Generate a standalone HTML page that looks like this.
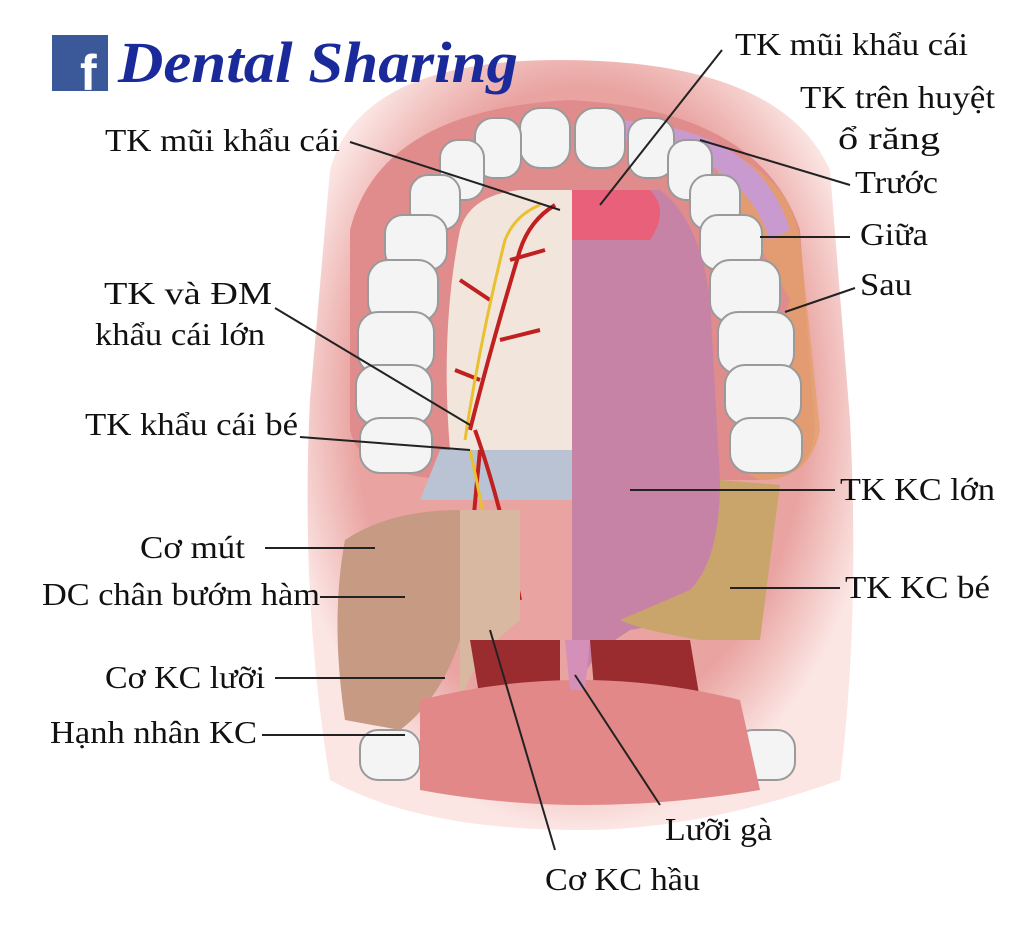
<!DOCTYPE html>
<html><head><meta charset="utf-8"><style>
html,body{margin:0;padding:0;background:#fff;width:1024px;height:929px;overflow:hidden}
svg{display:block}
.l{font-family:"Liberation Serif",serif;font-size:32px;fill:#111}
</style></head><body>
<svg width="1024" height="929" viewBox="0 0 1024 929" xmlns="http://www.w3.org/2000/svg">
<defs>
<radialGradient id="pk" cx="0.5" cy="0.45" r="0.55">
<stop offset="0.75" stop-color="#e9a3a0"/><stop offset="1" stop-color="#fbe6e4"/>
</radialGradient>
</defs>
<path d="M330 170 Q360 60 560 60 Q780 60 830 170 L850 420 Q860 620 840 780 Q700 830 580 830 Q420 830 330 780 Q300 600 310 400 Z" fill="url(#pk)"/>
<path d="M350 230 Q380 110 570 100 Q760 110 800 230 L815 430 Q810 480 760 480 L470 480 Q360 480 350 430 Z" fill="#e08c8c"/>
<path d="M700 140 Q790 170 800 240 L820 430 Q810 480 760 480 L740 470 L790 300 Z" fill="#e4a06a" opacity="0.8"/>
<path d="M620 120 Q760 130 790 230 L770 240 Q740 150 620 140Z" fill="#c99ad0"/>
<g fill="#f4f4f4" stroke="#9a9a9a" stroke-width="2">
<rect x="520" y="108" width="50" height="60" rx="20"/>
<rect x="575" y="108" width="50" height="60" rx="20"/>
<rect x="475" y="118" width="46" height="60" rx="18"/>
<rect x="628" y="118" width="46" height="60" rx="18"/>
<rect x="440" y="140" width="44" height="60" rx="18"/>
<rect x="668" y="140" width="44" height="60" rx="18"/>
<rect x="410" y="175" width="50" height="55" rx="18"/>
<rect x="690" y="175" width="50" height="55" rx="18"/>
<rect x="385" y="215" width="62" height="55" rx="18"/>
<rect x="700" y="215" width="62" height="55" rx="18"/>
<rect x="368" y="260" width="70" height="62" rx="20"/>
<rect x="710" y="260" width="70" height="62" rx="20"/>
<rect x="358" y="312" width="76" height="62" rx="20"/>
<rect x="718" y="312" width="76" height="62" rx="20"/>
<rect x="356" y="365" width="76" height="60" rx="20"/>
<rect x="725" y="365" width="76" height="60" rx="20"/>
<rect x="360" y="418" width="72" height="55" rx="20"/>
<rect x="730" y="418" width="72" height="55" rx="20"/>
<rect x="360" y="730" width="60" height="50" rx="18"/>
<rect x="735" y="730" width="60" height="50" rx="18"/>
</g>
<path d="M460 230 Q470 195 520 190 L572 190 L572 450 L450 450 Q440 330 460 230Z" fill="#f2e6dc"/>
<path d="M440 450 L572 450 L572 500 L420 500Z" fill="#b9c3d3"/>
<g stroke="#c02020" stroke-width="4" fill="none">
<path d="M470 430 Q490 350 520 250 Q530 220 555 205"/>
<path d="M500 340 L540 330 M490 300 L460 280 M510 260 L545 250 M480 380 L455 370 M475 430 Q500 500 520 600"/>
<path d="M480 450 Q470 550 465 640"/>
</g>
<g stroke="#e8c030" stroke-width="3" fill="none">
<path d="M465 440 Q480 340 505 240 Q515 215 540 205"/>
<path d="M470 450 Q490 540 500 620"/>
</g>
<path d="M572 190 L660 190 Q700 220 710 300 L720 480 Q730 580 690 620 L630 630 L600 650 L580 680 L572 680Z" fill="#c683a6"/>
<path d="M572 190 L650 190 Q670 210 650 240 L572 240Z" fill="#e8607a"/>
<path d="M720 480 L780 485 Q770 560 760 640 L700 640 Q640 630 620 620 L690 590 Q720 560 720 480Z" fill="#c9a56c"/>
<path d="M345 540 Q390 510 460 510 L460 640 Q440 700 400 730 L345 720 Q330 620 345 540Z" fill="#c79a84"/>
<path d="M460 510 L520 510 L520 620 Q480 650 460 700Z" fill="#d8b8a0"/>
<path d="M470 640 L560 640 L560 700 L480 700Z" fill="#9a2c30"/>
<path d="M590 640 L690 640 L700 700 L595 700Z" fill="#9a2c30"/>
<path d="M420 700 Q580 660 740 700 L760 790 Q580 820 420 790Z" fill="#e28888"/>
<path d="M565 640 L590 640 L585 690 L570 690Z" fill="#d490b8"/>
<rect x="52" y="35" width="56" height="56" fill="#3b5998"/>
<text x="80" y="90" font-family="Liberation Sans,sans-serif" font-weight="bold" font-size="50" fill="#fff">f</text>
<text x="118" y="82" font-family="Liberation Serif,serif" font-style="italic" font-weight="bold" font-size="58" fill="#1a2a9a" textLength="400" lengthAdjust="spacingAndGlyphs">Dental Sharing</text>
<g stroke="#222" stroke-width="2" fill="none">
<path d="M350 142 L560 210"/><path d="M275 308 L470 425"/><path d="M300 437 L470 450"/>
<path d="M265 548 L375 548"/><path d="M320 597 L405 597"/><path d="M275 678 L445 678"/><path d="M262 735 L405 735"/>
<path d="M722 50 L600 205"/><path d="M850 185 L700 140"/><path d="M850 237 L760 237"/><path d="M855 288 L785 312"/>
<path d="M835 490 L630 490"/><path d="M840 588 L730 588"/><path d="M660 805 L575 675"/><path d="M555 850 L490 630"/>
</g>
<g class="l" lengthAdjust="spacingAndGlyphs">
<text class="l" x="105" y="151" textLength="235" lengthAdjust="spacingAndGlyphs">TK mũi khẩu cái</text>
<text class="l" x="104" y="304" textLength="168" lengthAdjust="spacingAndGlyphs">TK và ĐM</text>
<text class="l" x="95" y="345" textLength="170" lengthAdjust="spacingAndGlyphs">khẩu cái lớn</text>
<text class="l" x="85" y="435" textLength="213" lengthAdjust="spacingAndGlyphs">TK khẩu cái bé</text>
<text class="l" x="140" y="558" textLength="105" lengthAdjust="spacingAndGlyphs">Cơ mút</text>
<text class="l" x="42" y="605" textLength="278" lengthAdjust="spacingAndGlyphs">DC chân bướm hàm</text>
<text class="l" x="105" y="688" textLength="160" lengthAdjust="spacingAndGlyphs">Cơ KC lưỡi</text>
<text class="l" x="50" y="743" textLength="207" lengthAdjust="spacingAndGlyphs">Hạnh nhân KC</text>
<text class="l" x="735" y="55" textLength="233" lengthAdjust="spacingAndGlyphs">TK mũi khẩu cái</text>
<text class="l" x="800" y="108" textLength="195" lengthAdjust="spacingAndGlyphs">TK trên huyệt</text>
<text class="l" x="838" y="149" textLength="102" lengthAdjust="spacingAndGlyphs">ổ răng</text>
<text class="l" x="855" y="193" textLength="83" lengthAdjust="spacingAndGlyphs">Trước</text>
<text class="l" x="860" y="245" textLength="68" lengthAdjust="spacingAndGlyphs">Giữa</text>
<text class="l" x="860" y="295" textLength="52" lengthAdjust="spacingAndGlyphs">Sau</text>
<text class="l" x="840" y="500" textLength="155" lengthAdjust="spacingAndGlyphs">TK KC lớn</text>
<text class="l" x="845" y="598" textLength="145" lengthAdjust="spacingAndGlyphs">TK KC bé</text>
<text class="l" x="665" y="840" textLength="107" lengthAdjust="spacingAndGlyphs">Lưỡi gà</text>
<text class="l" x="545" y="890" textLength="155" lengthAdjust="spacingAndGlyphs">Cơ KC hầu</text>
</g>
</svg>
</body></html>
